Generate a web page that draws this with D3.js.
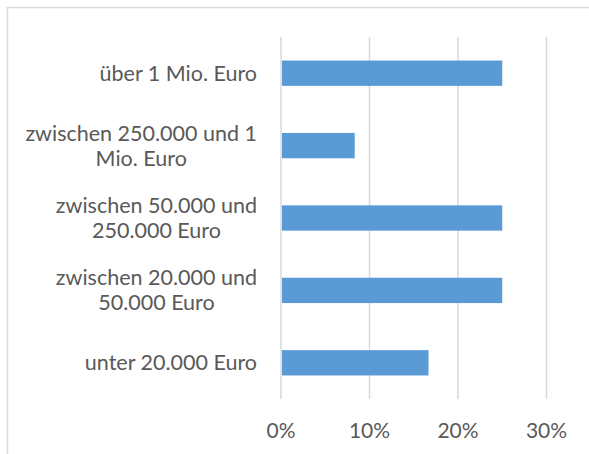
<!DOCTYPE html>
<html>
<head>
<meta charset="utf-8">
<script src="https://cdn.jsdelivr.net/npm/d3@7"></script>
<style>
  body { margin: 0; background: #fff; }
  svg { display: block; }
</style>
</head>
<body>
<svg id="chart" width="589" height="454"></svg>
<script>
// categories top to bottom, "\n" marks the line break of the label
var categories = [
    "über 1 Mio. Euro",
    "zwischen 250.000 und 1\nMio. Euro",
    "zwischen 50.000 und\n250.000 Euro",
    "zwischen 20.000 und\n50.000 Euro",
    "unter 20.000 Euro"
];
var shares = [0.25, 0.0833, 0.25, 0.25, 0.1667];
var ticks = [0, 0.1, 0.2, 0.3];

var font = "Lato, sans-serif";
var textColor = "#595959";
var gridColor = "#D9D9D9";
var barColor = "#5B9BD5";

var svg = d3.select("#chart");

// outer chart border (right and bottom run past the picture)
svg.append("rect")
    .attr("x", 7.5).attr("y", 7.5)
    .attr("width", 600).attr("height", 460)
    .attr("fill", "none")
    .attr("stroke", gridColor)
    .attr("stroke-width", 1.5);

var x = d3.scaleLinear().domain([0, 0.3]).range([281, 546.5]);
var y = d3.scaleBand().domain(categories).range([37, 399]).paddingInner(0.65).paddingOuter(0.325);

// gridlines
svg.append("g").selectAll("line")
    .data(ticks)
    .join("line")
    .attr("x1", function(d) { return x(d); })
    .attr("x2", function(d) { return x(d); })
    .attr("y1", 37)
    .attr("y2", 399)
    .attr("stroke", gridColor)
    .attr("stroke-width", 1.5);

// bars
svg.append("g").selectAll("rect")
    .data(categories)
    .join("rect")
    .attr("x", x(0) + 1)
    .attr("y", function(d) { return y(d); })
    .attr("width", function(d, i) { return x(shares[i]) - x(0) - 1; })
    .attr("height", y.bandwidth())
    .attr("fill", barColor);

// x axis tick labels
svg.append("g").selectAll("text")
    .data(ticks)
    .join("text")
    .attr("x", function(d) { return x(d); })
    .attr("y", 431)
    .attr("dy", "0.35em")
    .attr("text-anchor", "middle")
    .style("font-family", font)
    .style("font-size", "21px")
    .style("fill", textColor)
    .text(d3.format(".0%"));

// category labels, one text per line, lines centred on a common middle
var lh = 25;
var labels = svg.append("g").selectAll("g")
    .data(categories)
    .join("g");

labels.each(function(d) {
    var lines = d.split("\n");
    var g = d3.select(this);
    var cy = y(d) + y.bandwidth() / 2;
    lines.forEach(function(line, i) {
        g.append("text")
            .attr("x", 0)
            .attr("y", cy + (i - (lines.length - 1) / 2) * lh)
            .attr("dy", "0.35em")
            .attr("text-anchor", "middle")
            .style("font-family", font)
            .style("font-size", "21.5px")
            .style("fill", textColor)
            .text(line);
    });
    // right edge of the widest line sits at 257
    var w = this.getBBox().width;
    g.attr("transform", "translate(" + (257 - w / 2) + ",0)");
});
</script>
</body>
</html>
